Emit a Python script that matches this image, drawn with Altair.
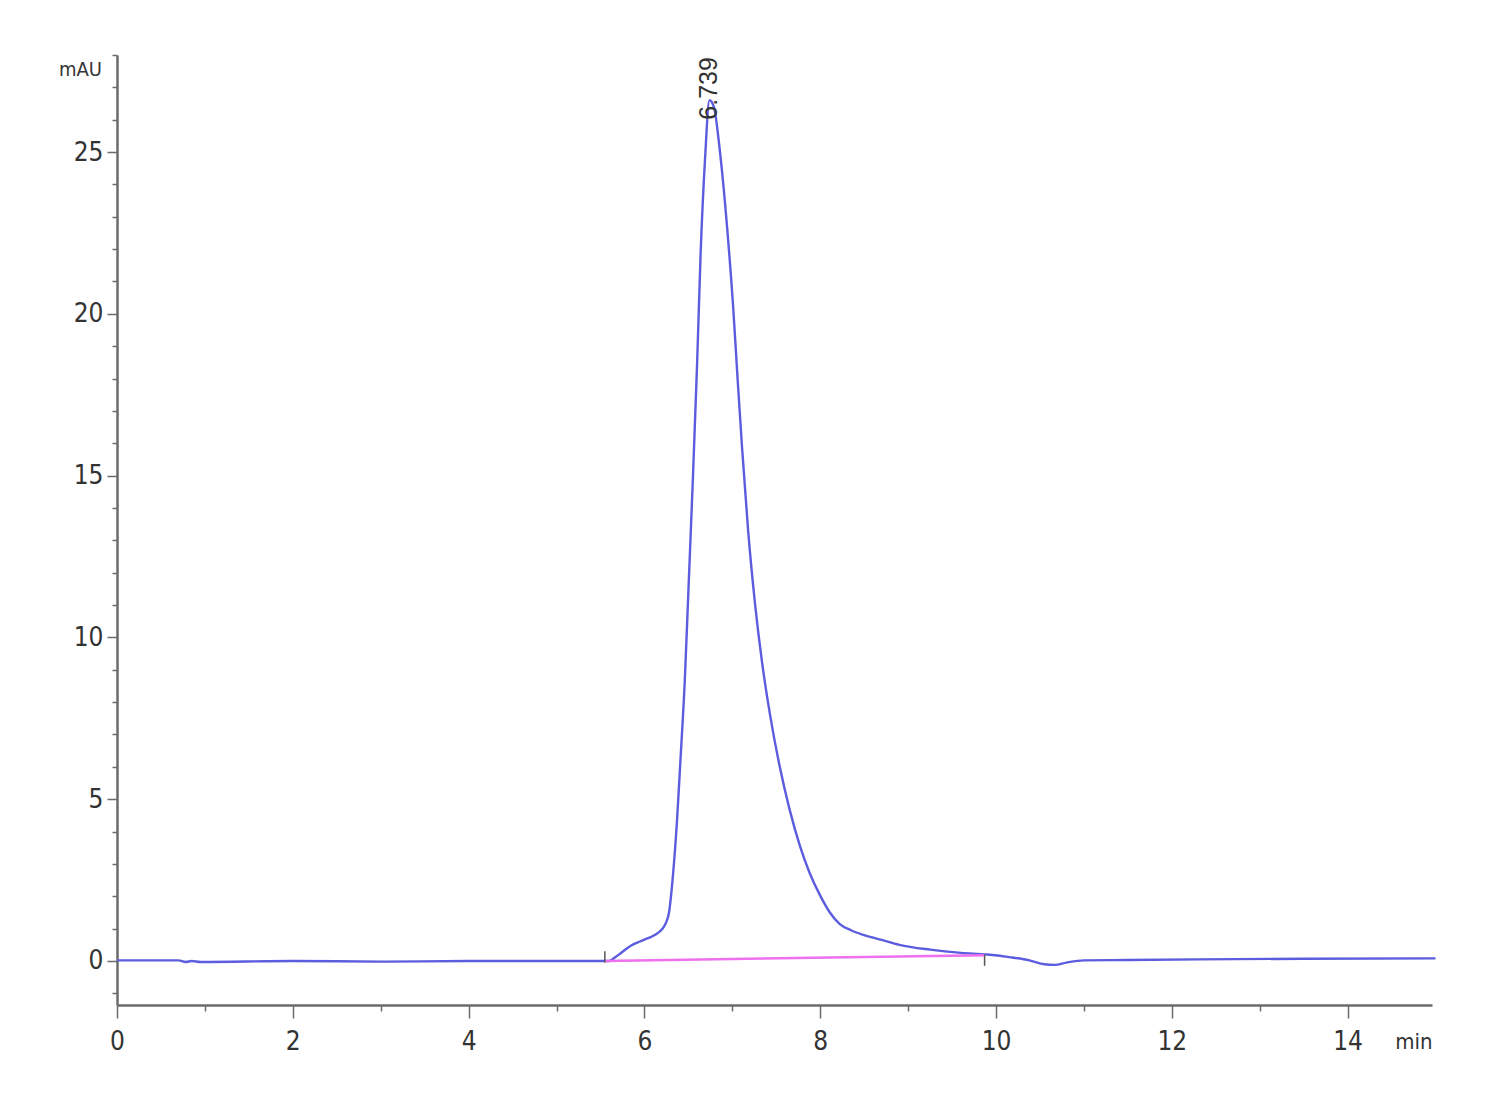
import altair as alt
import pandas as pd

# chromatogram trace (time in min, absorbance in mAU)
time_min = [0, 0.7, 0.78, 0.85, 0.95, 2, 3, 4, 5, 5.5, 5.6, 5.66, 5.72, 5.78, 5.85,
            5.92, 6.0, 6.08, 6.15, 6.2, 6.24, 6.28, 6.32, 6.37, 6.41, 6.46, 6.5, 6.55,
            6.6, 6.64, 6.69, 6.74, 6.79, 6.86, 6.94, 7.01, 7.06, 7.11, 7.18, 7.26, 7.34,
            7.43, 7.54, 7.65, 7.77, 7.88, 8.0, 8.11, 8.22, 8.35, 8.5, 8.7, 8.9, 9.25,
            9.6, 9.9, 10.15, 10.38, 10.55, 10.67, 10.8, 11.0, 11.5, 12.3, 13.5, 15]
mau = [0.02, 0.02, -0.03, 0.0, -0.03, 0.0, -0.02, 0.0, 0.0, 0.0, 0.0, 0.1, 0.22, 0.35,
       0.48, 0.57, 0.66, 0.75, 0.86, 0.98, 1.15, 1.5, 2.5, 4.3, 6.2, 8.7, 11.4, 14.8,
       18.5, 21.9, 24.8, 26.6, 26.4, 25.0, 22.7, 20.2, 18.0, 15.9, 13.3, 11.0, 9.2,
       7.6, 6.0, 4.7, 3.55, 2.72, 2.02, 1.5, 1.15, 0.95, 0.8, 0.65, 0.5, 0.35, 0.25,
       0.2, 0.12, 0.02, -0.1, -0.12, -0.05, 0.02, 0.03, 0.05, 0.07, 0.08]

# integration baseline
base_time = [5.55, 9.87]
base_mau = [0.0, 0.18]

# integration event markers
event_time = [5.55, 9.87]
event_lo = [-0.05, -0.15]
event_hi = [0.3, 0.2]

# peak annotation
peak_time = [6.739]
peak_mau = [26.0]
peak_label = ["6.739"]

x_ticks = [i * 0.5 for i in range(0, 30)]
y_ticks = list(range(-1, 29))

trace = pd.DataFrame({"t": time_min, "v": mau})
base = pd.DataFrame({"t": base_time, "v": base_mau})
events = pd.DataFrame({"t": event_time, "lo": event_lo, "hi": event_hi})
peak = pd.DataFrame({"t": peak_time, "v": peak_mau, "label": peak_label})

FONT = "'Liberation Sans Narrow', 'DejaVu Sans Condensed', 'Liberation Sans', Arial, sans-serif"
AXIS_COLOR = "#6b6b6b"
TEXT_COLOR = "#333333"

x_scale = alt.Scale(domain=[0, 14.96], nice=False, zero=False)
y_scale = alt.Scale(domain=[-1.36, 28], nice=False, zero=False)

x_axis = alt.Axis(
    values=x_ticks,
    tickCount=500,
    labelExpr="abs(datum.value % 2) < 0.01 ? datum.label : ''",
    format="d",
    grid=False,
    domainColor=AXIS_COLOR,
    domainWidth=2.5,
    tickColor=AXIS_COLOR,
    tickWidth=1.5,
    tickSize={"condition": {"test": "abs(datum.value % 2) < 0.01", "value": 13}, "value": 6},
    labelFont=FONT,
    labelFontSize=26,
    labelColor=TEXT_COLOR,
    labelPadding=10,
    labelFlush=False,
    labelOverlap=False,
    title="min",
    titleFont=FONT,
    titleFontSize=22,
    titleFontWeight="normal",
    titleColor=TEXT_COLOR,
    titleAnchor="end",
    titleAlign="right",
    titleBaseline="middle",
    titleX=1315,
    titleY=36,
)

y_axis = alt.Axis(
    values=y_ticks,
    tickCount=500,
    labelExpr="datum.value % 5 === 0 ? datum.label : ''",
    format="d",
    grid=False,
    domainColor=AXIS_COLOR,
    domainWidth=2.5,
    tickColor=AXIS_COLOR,
    tickWidth=1.5,
    tickSize={"condition": {"test": "datum.value % 5 === 0", "value": 10}, "value": 5},
    labelFont=FONT,
    labelFontSize=26,
    labelColor=TEXT_COLOR,
    labelPadding=4,
    labelBaseline="middle",
    labelFlush=False,
    labelOverlap=False,
    title="mAU",
    titleFont=FONT,
    titleFontSize=20,
    titleFontWeight="normal",
    titleColor=TEXT_COLOR,
    titleAngle=0,
    titleAlign="center",
    titleBaseline="middle",
    titleX=-37,
    titleY=14,
)

line = alt.Chart(trace).mark_line(
    color="#5c5cde", strokeWidth=2.4, interpolate="monotone"
).encode(
    x=alt.X("t:Q", scale=x_scale, axis=x_axis),
    y=alt.Y("v:Q", scale=y_scale, axis=y_axis),
)

baseline = alt.Chart(base).mark_line(color="#ee70ee", strokeWidth=2.5).encode(
    x=alt.X("t:Q", scale=x_scale),
    y=alt.Y("v:Q", scale=y_scale),
)

marks = alt.Chart(events).mark_rule(color="#555555", strokeWidth=1.5).encode(
    x=alt.X("t:Q", scale=x_scale),
    y=alt.Y("lo:Q", scale=y_scale),
    y2="hi:Q",
)

label = alt.Chart(peak).mark_text(
    angle=270, align="left", baseline="middle", font="Liberation Sans",
    fontSize=25, color=TEXT_COLOR,
).encode(
    x=alt.X("t:Q", scale=x_scale),
    y=alt.Y("v:Q", scale=y_scale),
    text="label:N",
)

chart = alt.layer(line, baseline, marks, label).properties(
    width=1315,
    height=950,
    autosize=alt.AutoSizeParams(type="none"),
    padding={"left": 109, "top": 47, "right": 20, "bottom": 60},
    background="white",
).configure_view(stroke=None)

chart.save("out.html", embed_options={"renderer": "svg", "actions": False})
